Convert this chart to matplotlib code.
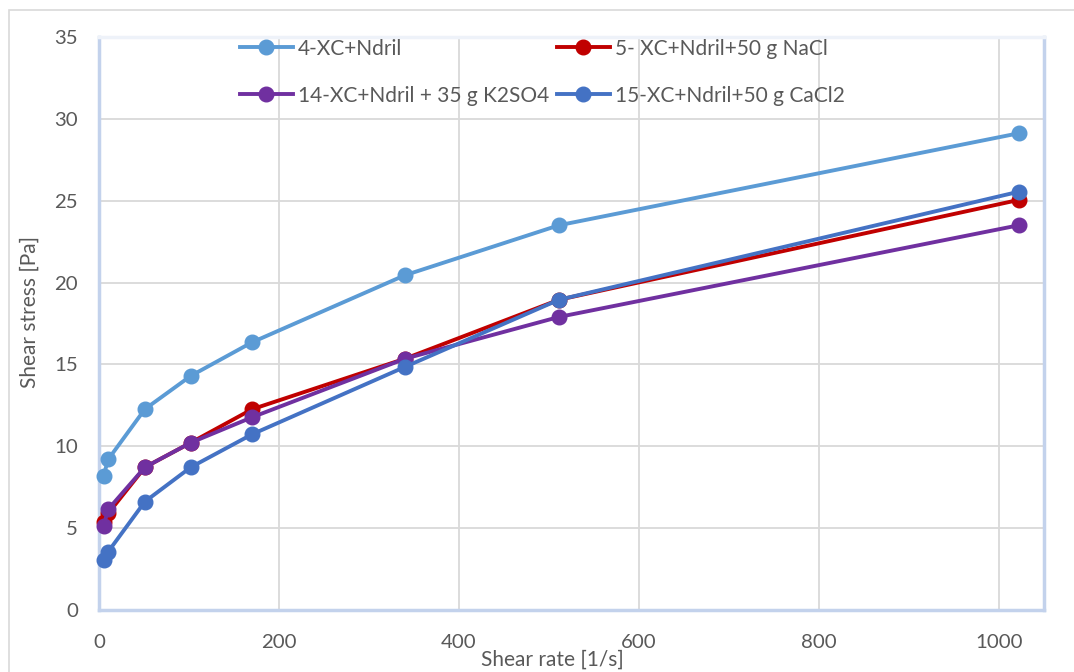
import matplotlib
matplotlib.use("Agg")
import matplotlib.pyplot as plt
from matplotlib.patches import Rectangle

plt.rcParams['font.family'] = ['Lato', 'DejaVu Sans']

shear_rate = [5.1, 10.2, 51, 102, 170, 340, 511, 1022]
s4 = [8.2, 9.2, 12.27, 14.3, 16.35, 20.45, 23.5, 29.12]
s5 = [5.4, 5.9, 8.72, 10.22, 12.26, 15.35, 18.95, 25.05]
s14 = [5.13, 6.15, 8.72, 10.22, 11.77, 15.35, 17.9, 23.5]
s15 = [3.05, 3.56, 6.62, 8.72, 10.73, 14.85, 18.95, 25.55]

labels = ["4-XC+Ndril", "5- XC+Ndril+50 g NaCl",
          "14-XC+Ndril + 35 g K2SO4", "15-XC+Ndril+50 g CaCl2"]
colors = ["#5B9BD5", "#C00000", "#7030A0", "#4472C4"]
series = [s4, s5, s14, s15]

W, H = 1074, 672
fig = plt.figure(figsize=(W / 100, H / 100), dpi=100)
fig.patch.set_facecolor("white")

# outer chart border
fig.add_artist(Rectangle((9 / W, -0.05), 1.1, 1 - 10 / H + 0.05,
                         transform=fig.transFigure, fill=False,
                         edgecolor="#D9D9D9", linewidth=1.2))

left, right, top, bottom = 99, 1044, 37, 610
ax = fig.add_axes([left / W, 1 - bottom / H, (right - left) / W, (bottom - top) / H])

lines = []
for y, c, lab in zip(series, colors, labels):
    ln, = ax.plot(shear_rate, y, color=c, linewidth=2.8, marker='o',
                  markersize=10.5, label=lab, zorder=3, clip_on=False)
    lines.append(ln)

ax.set_xlim(0, 1050)
ax.set_ylim(0, 35)
ax.set_xticks([0, 200, 400, 600, 800, 1000])
ax.set_yticks([0, 5, 10, 15, 20, 25, 30, 35])
ax.grid(True, color="#D9D9D9", linewidth=1.3)
ax.set_axisbelow(True)
ax.tick_params(length=0, labelsize=14.7, colors="#595959")
ax.tick_params(axis='y', pad=15)
ax.tick_params(axis='x', pad=17)

for side in ["left", "bottom", "right"]:
    ax.spines[side].set_color("#C3D2EC")
    ax.spines[side].set_linewidth(2.5)
ax.spines["top"].set_color("#EEF2F9")
ax.spines["top"].set_linewidth(2.5)

# legend: order rows [4,5],[14,15]
order = [0, 2, 1, 3]
leg = ax.legend([lines[i] for i in order], [labels[i] for i in order],
                ncol=2, loc="upper left", bbox_to_anchor=(0.149, 0.997),
                frameon=False, fontsize=15, handlelength=2.55,
                columnspacing=0.35, handletextpad=0.25, labelspacing=1.29,
                borderaxespad=0.0, borderpad=0.0)
for t in leg.get_texts():
    t.set_color("#595959")

fig.text(552 / W, 1 - 660 / H, "Shear rate [1/s]", ha="center", va="center",
         fontsize=15, color="#595959")
fig.text(30 / W, 1 - 312 / H, "Shear stress [Pa]", ha="center", va="center",
         rotation=90, fontsize=15, color="#595959")

fig.savefig("out.png", dpi=100)
